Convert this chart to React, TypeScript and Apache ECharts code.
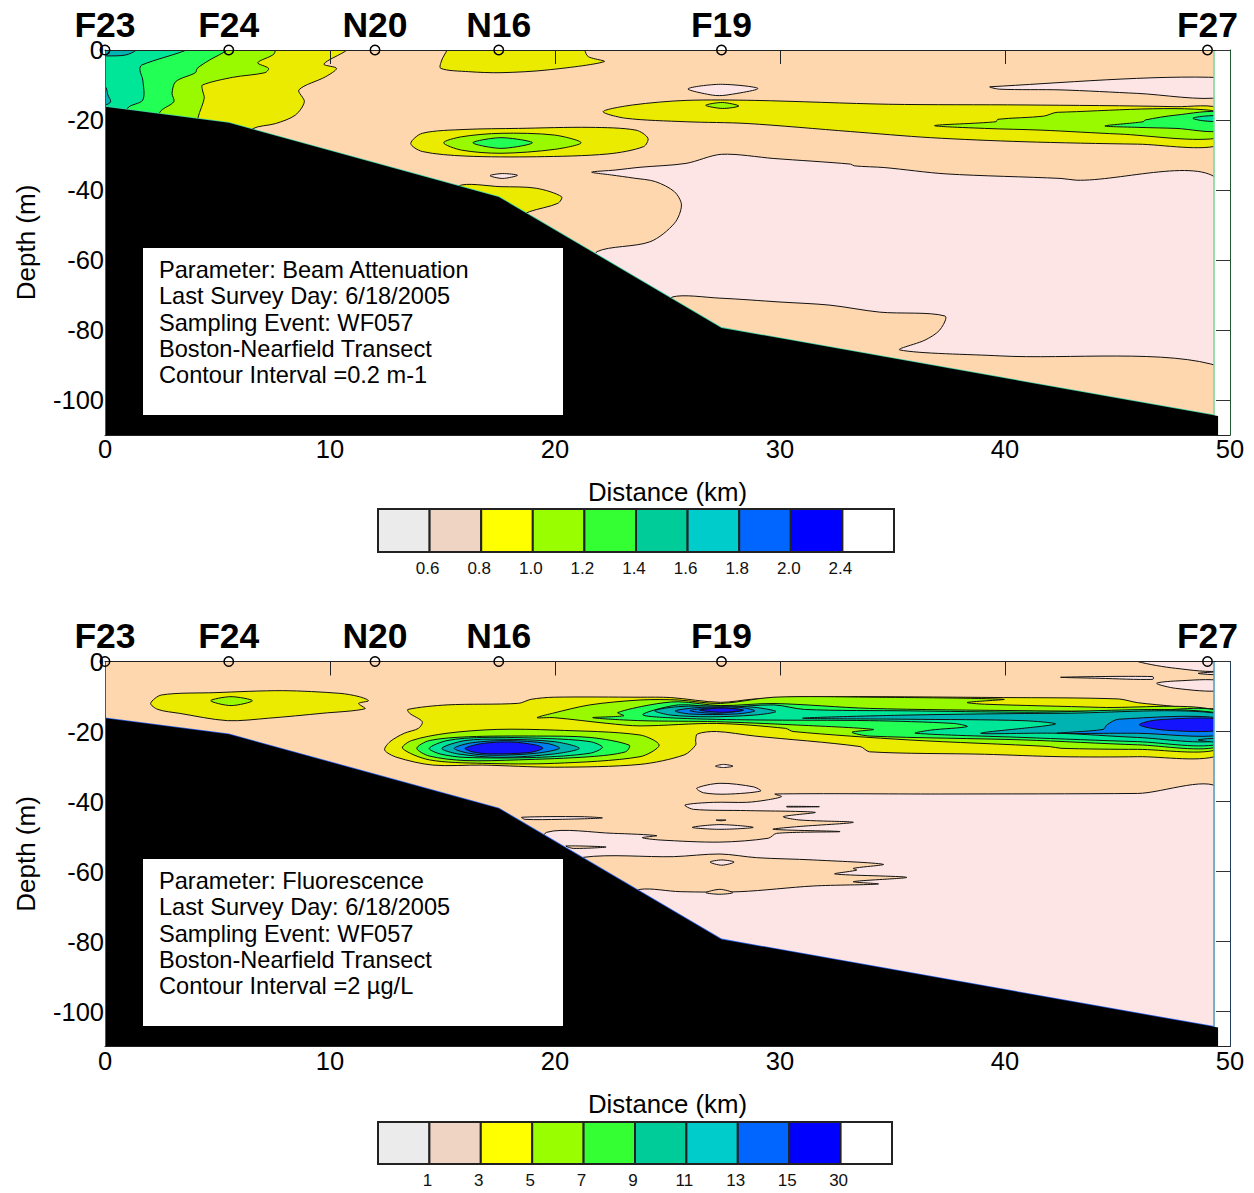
import React, { useEffect, useRef } from "react";
import * as echarts from "echarts";

const FONT = "Liberation Sans";
const stationNames = ["F23", "F24", "N20", "N16", "F19", "F27"];
const stationKm = [0, 5.5, 12, 17.5, 27.4, 49];
const depthTicks = [-100, -80, -60, -40, -20, 0];
const colorbarBeamLabels = ["0.6", "0.8", "1.0", "1.2", "1.4", "1.6", "1.8", "2.0", "2.4"];
const colorbarFluorLabels = ["1", "3", "5", "7", "9", "11", "13", "15", "30"];
const colorbarColors = ["#EBEBEB", "#EFD3C3", "#FFFF00", "#99FF00", "#33FF33", "#00CC99", "#00CCCC", "#0066FF", "#0000FF", "#FFFFFF"];
const beamInfo = ["Parameter: Beam Attenuation", "Last Survey Day: 6/18/2005", "Sampling Event: WF057", "Boston-Nearfield Transect", "Contour Interval =0.2 m-1"];
const fluorInfo = ["Parameter: Fluorescence", "Last Survey Day: 6/18/2005", "Sampling Event: WF057", "Boston-Nearfield Transect", "Contour Interval =2 µg/L"];

const seabed = [[0, -16.2], [5.5, -20.8], [17.5, -42], [27.4, -79.4], [49.47, -104.6]];
const wholeArea = [[-1, 1], [51, 1], [51, -112], [-1, -112]];

// Beam attenuation contours: [distance km, depth m]
const bPink = [[21.63, -34.9], [22.67, -34.3], [23.78, -33.5], [25.82, -32.4], [27.4, -29.8], [29.73, -31], [33.13, -32.6], [33.3, -33.1], [34.66, -33.6], [37.38, -35.4], [42.49, -36.7], [43.17, -37.2], [49.6, -38.1], [49.6, -108], [27.4, -84], [21.87, -62], [21.87, -57.6], [24.22, -54.8], [25.31, -49.5], [25.62, -44.3], [25.31, -40.5], [24.46, -37.6], [23.5, -36.6], [22.5, -35.7]];
const bLowerPeach = [[25.2, -70.6], [27.33, -70.9], [30, -72], [32.22, -72.9], [34.44, -74.9], [37.33, -76], [37.1, -80], [36.44, -82.9], [35.33, -85.7], [39.78, -87.4], [49.6, -90.6], [49.6, -110], [27, -85], [25.2, -75]];
const bIslandF19 = [[25.91, -11.1], [27.35, -9.8], [29.02, -11], [27.6, -12.9], [27.0, -12.9]];
const bRightPink = [[39.34, -10.5], [49.6, -7.9], [49.6, -13.5], [45.9, -12.4], [42.49, -11.4], [39.77, -11.2]];
const bTinyPink = [[17.11, -35.9], [17.67, -35.3], [18.33, -35.8], [17.67, -36.7]];
const bYellowCoast = [[-1, 1], [10.76, 1], [10.76, 0], [9.73, -4], [10.29, -5.24], [9.81, -7.62], [8.62, -11.4], [8.86, -14.76], [8.46, -18.6], [7.59, -21], [6.56, -22.5], [6.2, -26], [-1, -26]];
const bLimeCoast = [[-1, 1], [7.51, 1], [7.51, -1.14], [6.79, -3.62], [7.27, -5.24], [7.11, -6.48], [5.68, -7.8], [4.33, -10], [4.33, -11.4], [4.41, -13.8], [4.14, -19.2], [4, -26], [-1, -26]];
const bGreenCoast = [[-1, 1], [5.44, 1], [5.44, 0], [4.65, -2.86], [4.1, -5.24], [4.02, -6.48], [3.14, -9.05], [2.98, -12.4], [3.06, -14.76], [2.43, -17.9], [2.3, -26], [-1, -26]];
const bTealCoast = [[-1, 1], [3.62, 1], [3.62, 0], [1.63, -4.3], [1.55, -5.7], [1.68, -8.6], [1.68, -14.3], [1, -16.7], [0.8, -26], [-1, -26]];
const bCyanTop = [[-1, 1], [1.4, 1], [1.4, 0], [0.92, -1.43], [0.05, -1.7], [-1, -1.7]];
const bCyanPocket = [[-1, -10.5], [0, -10.5], [0.13, -12.85], [0.25, -14.8], [0, -15.7], [-1, -15.7]];
const bN16Top = [[15.2, 1], [15.2, 0], [14.97, -2.86], [14.92, -5.24], [16.16, -6.19], [17.6, -6.48], [19.65, -5.71], [22.19, -3.33], [21.48, -1.9], [21.32, 0], [21.32, 1]];
const bBlobYellow = [[13.59, -26.7], [14.1, -23.8], [16, -22.7], [18.38, -22.4], [21.56, -22.1], [23.6, -22.9], [24.13, -25.2], [23.94, -27.6], [22.35, -29.7], [19.17, -30.5], [16, -30.3], [14.1, -29]];
const bBlobLime = [[15.05, -26.5], [15.84, -24.8], [17.6, -23.8], [19.97, -24.3], [21.16, -26.5], [19.97, -28.4], [17.6, -29.5], [15.84, -28.6]];
const bBlobGreen = [[16.35, -26.5], [17.6, -25.05], [19, -26.5], [17.6, -28.1]];
const bShelfYellow = [[15.68, -38.9], [17.6, -39.05], [19.17, -39.5], [20.29, -41.9], [20.13, -43.8], [18.86, -46.2], [17.5, -50], [15.68, -45]];
const bBandYellow = [[22.14, -17.6], [23.46, -15.7], [25.82, -14.4], [28.88, -14.4], [34.83, -15.5], [40.8, -15.7], [47.6, -16.2], [49.6, -17], [49.6, -27], [45.9, -26.9], [40.8, -26.2], [36.7, -25.05], [33.13, -23.3], [28.54, -21], [25.82, -20.5], [23.14, -19.5]];
const bF19Lime = [[26.7, -15.8], [27.44, -15], [28.17, -16], [27.44, -16.7]];
const bBandLime = [[36.87, -21.6], [39.6, -20.5], [39.68, -19.8], [41.72, -18.9], [42.32, -17.8], [49.6, -17.6], [49.6, -25], [45.04, -24], [41.64, -22.9], [39.09, -22.4]];
const bBandGreen = [[44.44, -21.7], [46.14, -20.5], [46.23, -20], [47.6, -18.6], [49.6, -17.9], [49.6, -23], [47.6, -22.4], [45.9, -22.1]];
const bBandTeal = [[48.35, -19.5], [48.86, -18.9], [49.6, -18.9], [49.6, -20.3], [48.78, -20.2]];

// Fluorescence contours: [distance km, depth m]
const fPink = [[49.6, -37.2], [45.89, -37.7], [37.1, -37.86], [29.78, -37.86], [30.07, -38.6], [29.41, -39.57], [28.52, -40.24], [27.04, -40.24], [25.78, -41], [26.15, -42.24], [28.52, -42.6], [31.56, -43.1], [30.15, -44.33], [30.89, -45.29], [33.26, -45.95], [30.74, -47.2], [29.7, -47.95], [32.67, -48.6], [29.85, -49.1], [29.48, -50.5], [27.33, -51.6], [24.67, -51], [23.88, -50.33], [24.52, -49.76], [22.6, -49.1], [19.63, -48.8], [19.5, -55], [27.4, -85], [49.6, -108]];
const fLens = [[21.26, -55.95], [25.26, -55.76], [27.33, -55], [28.96, -56.05], [31.48, -56.7], [34.59, -57.95], [33.26, -59.1], [33.41, -59.6], [32.44, -60.7], [35.63, -61.67], [33.26, -62.9], [34.37, -63.57], [31.48, -64.14], [28.22, -65.76], [25.56, -65.76], [23.78, -65.1], [23, -68], [20.5, -60]];
const fLensHole = [[26.89, -57.3], [27.41, -56.7], [27.96, -57.3], [27.41, -58.2]];
const fLensFoot = [[26.71, -66.05], [27.33, -65.1], [27.9, -66.05], [27.33, -66.5]];
const fSliverA = [[18.52, -44.5], [21.11, -44.33], [22.1, -44.7], [20.22, -45.1], [18.67, -45.1]];
const fSliverB = [[20.49, -52.7], [22.27, -53], [20.81, -53.4]];
const fSliverC = [[30.3, -41.38], [31.75, -41.48], [30.3, -41.57]];
const fSliverD = [[27.16, -45.3], [27.6, -45.3], [27.38, -45.5]];
const fOvalMid = [[26.1, -47.4], [27.33, -46.6], [28.81, -47.4], [27.33, -47.95]];
const fOvalUpper = [[26.3, -36.2], [27.33, -34.8], [28.81, -35.8], [29.14, -37], [27.63, -37.9], [26.6, -37.5]];
const fTinyUpper = [[27.13, -29.9], [27.49, -29.4], [27.91, -29.9], [27.49, -30.3]];
const fCornerPink = [[45.89, 1], [45.89, 0], [47.59, -1.95], [49.6, -2.6], [49.6, 1]];
const fSmallPink = [[48.58, -3.4], [49.6, -3], [49.6, -3.76]];
const fThinPink = [[42.49, -4.5], [46.57, -4.3], [46.57, -5.1], [44.19, -4.8]];
const fOvalRight = [[46.74, -6.24], [47.59, -5.57], [49.6, -5.5], [49.6, -8.3], [47.59, -7.67]];
const fYellowF24 = [[2.03, -11.95], [2.51, -9.57], [4.89, -8.9], [7.9, -8.33], [10.44, -9.1], [11.3, -10.05], [11.71, -11.2], [11.27, -12], [11.56, -13.5], [9.65, -14.8], [7.27, -16.2], [5.44, -16.9], [3.3, -14.8], [2.35, -13.7]];
const fLimeF24 = [[4.7, -11.2], [5.6, -10.05], [6.55, -11.2], [5.6, -12.6]];
const fYellowMain = [[13.46, -13.7], [15.2, -12.4], [18.38, -11.95], [18.94, -10.8], [19.97, -10.2], [23.78, -10.2], [25.14, -10.3], [27.35, -11.67], [28.88, -10.7], [31.43, -10.05], [39.94, -10.3], [45.04, -10.7], [45.89, -11.76], [47.59, -12.9], [48.44, -13.86], [49.6, -14.14], [49.6, -26.5], [45.89, -27.2], [42.49, -27.2], [39.09, -26.5], [33.98, -25.8], [33.56, -24.3], [28.88, -21.3], [27.18, -20], [26.33, -20.7], [26.25, -22.4], [26.25, -23.9], [25.74, -26.7], [23.78, -29.4], [19.97, -30.2], [16.79, -29.6], [14.57, -29.6], [12.98, -27.4], [12.43, -25.3], [12.67, -22.9], [13.3, -20.5], [13.93, -19.1], [14.1, -17.2], [13.54, -14.8]];
const fLimeLower = [[13.22, -24.8], [13.62, -22.6], [15.2, -20.5], [17.43, -19.4], [19.97, -19.6], [23.78, -21], [24.63, -23.9], [23.78, -27.2], [19.97, -29.1], [16.79, -29.1], [14.41, -28.1]];
const fGreenLower = [[13.86, -24.8], [14.41, -22.6], [16.16, -21.5], [19.17, -21.3], [21.56, -21.7], [23.3, -23.9], [23.14, -25.8], [21.56, -27.2], [18.38, -28.1], [16, -28.3], [14.41, -27]];
const fTealLower = [[14.41, -24.8], [15.2, -22.6], [16.79, -21.7], [19.65, -22], [21.56, -22.9], [22.11, -24.5], [21.56, -26.2], [19.17, -27.4], [16, -27.4], [14.89, -26.4]];
const fCyanLower = [[14.97, -24.8], [16, -22.6], [17.6, -22.2], [19.97, -22.9], [21.08, -24.8], [19.97, -26.4], [17.6, -27.4], [15.68, -26.4]];
const fBlueLower = [[15.52, -24.8], [16.32, -23.2], [17.9, -22.6], [19.65, -23.4], [20.2, -24.8], [19.17, -26.2], [17.27, -26.8], [16.16, -26.2]];
const fDeepLower = [[16, -24.8], [16.79, -23.4], [18.06, -23], [19.17, -23.9], [19.46, -24.8], [18.86, -26], [17.11, -26.4], [16.32, -25.8]];
const fLimeBand = [[19.2, -16.05], [19.89, -14.8], [21.55, -12.4], [23.78, -11], [25.48, -11], [27.35, -12], [29.73, -10.2], [34, -10.2], [39.94, -10.8], [38.32, -11.7], [39.09, -12.2], [44.19, -13.1], [49.6, -14.3], [49.6, -24.8], [45.89, -25.1], [42.49, -24.8], [41.98, -24.3], [35.7, -22.4], [30.58, -20], [30.24, -19.1], [27.18, -17.7], [23.78, -18.4], [22.35, -17.7], [19.97, -16.05]];
const fGreenBand = [[21.68, -16.05], [23.06, -15.5], [22.79, -14.6], [24.22, -12.4], [25.48, -11.5], [27.35, -12.6], [29.73, -12], [33.98, -13.4], [40.8, -14.05], [45.89, -14.3], [49.6, -14.3], [49.6, -24.1], [45.89, -23.8], [40.8, -22.4], [33.98, -21.3], [33.2, -20.2], [34.15, -19.4], [30.58, -18.1], [27.18, -17.2], [23.78, -16.9]];
const fTealBand = [[23.9, -15.2], [25.48, -12.4], [27.35, -13.1], [29.73, -12.4], [31.09, -13.7], [35.7, -14.1], [40.8, -14.5], [49.6, -14.8], [49.6, -23.4], [45.89, -22.9], [40.8, -21.7], [36.02, -20.5], [36.7, -19.6], [38.32, -18.6], [37.72, -17.7], [33.98, -16.9], [28.88, -16.7], [25.48, -16.2]];
const fCyanF19 = [[24.43, -14.05], [25.48, -12.9], [27.35, -12.7], [28.88, -13.1], [29.82, -14.3], [28.88, -15.3], [26.84, -15.8], [25.14, -15.3]];
const fBlueF19 = [[25.34, -14.1], [26.5, -13.1], [28.2, -13.1], [28.88, -14.1], [28.03, -15], [26, -15]];
const fAzureF19 = [[25.99, -14.05], [27.18, -13.2], [28.37, -13.9], [27.18, -14.8]];
const fDeepF19 = [[26.42, -13.9], [27.44, -13.3], [28.37, -13.9], [27.44, -14.5]];
const fCyanBand = [[31, -16.2], [35.7, -15.3], [42.49, -14.8], [49.6, -15], [49.6, -22.4], [45.89, -21.7], [42.32, -20.5], [38.92, -20.5], [42.23, -17.9], [40.8, -16.9], [35.7, -16.5]];
const fAzureBand = [[42.32, -20.5], [44.36, -19.4], [44.53, -18.1], [45.04, -16.5], [49.6, -16.2], [49.6, -21], [45.89, -20.5]];
const fDeepBand = [[45.97, -18.1], [46.74, -16.7], [49.6, -16.5], [49.6, -19.6], [47.08, -19.6]];
const fCyanFoot = [[48.58, -22.4], [49.6, -22], [49.6, -23.1]];

const PEACH = "#FFD7AF", PINK = "#FDE5E5", YELLOW = "#EBEB00", LIME = "#99FA00", GREEN = "#22FF55", TEAL = "#00E699", CYAN = "#00B3B3", AZURE = "#0080F0", DEEP = "#1414FF";

const beamLayers: [number[][], string][] = [
  [bPink, PINK], [bLowerPeach, PEACH], [bIslandF19, PINK], [bRightPink, PINK], [bTinyPink, PINK],
  [bYellowCoast, YELLOW], [bLimeCoast, LIME], [bGreenCoast, GREEN], [bTealCoast, TEAL], [bCyanTop, CYAN], [bCyanPocket, CYAN],
  [bN16Top, YELLOW], [bBlobYellow, YELLOW], [bBlobLime, LIME], [bBlobGreen, GREEN], [bShelfYellow, YELLOW],
  [bBandYellow, YELLOW], [bF19Lime, LIME], [bBandLime, LIME], [bBandGreen, GREEN], [bBandTeal, TEAL],
];
const fluorLayers: [number[][], string][] = [
  [fPink, PINK], [fLens, PEACH], [fLensHole, PINK], [fLensFoot, PEACH], [fSliverA, PINK], [fSliverB, PEACH], [fSliverC, PEACH], [fSliverD, PINK], [fOvalMid, PINK], [fOvalUpper, PINK], [fTinyUpper, PINK],
  [fCornerPink, PINK], [fSmallPink, PINK], [fThinPink, PINK], [fOvalRight, PINK],
  [fYellowF24, YELLOW], [fLimeF24, LIME], [fYellowMain, YELLOW], [fLimeLower, LIME], [fGreenLower, GREEN], [fTealLower, TEAL], [fCyanLower, CYAN], [fBlueLower, AZURE], [fDeepLower, DEEP],
  [fLimeBand, LIME], [fGreenBand, GREEN], [fTealBand, TEAL], [fCyanF19, CYAN], [fBlueF19, AZURE], [fAzureF19, AZURE], [fDeepF19, DEEP], [fCyanBand, CYAN], [fAzureBand, AZURE], [fDeepBand, DEEP], [fCyanFoot, CYAN],
];

const STRIP_X = 49.29;

function polygonSeries(list: [number[][], string][], axis: number, stroke: string | null, smooth: number, z: number) {
  return {
    type: "custom",
    coordinateSystem: "cartesian2d",
    xAxisIndex: axis,
    yAxisIndex: axis,
    clip: true,
    silent: true,
    z,
    data: list.map((_, i) => [i, 0]),
    renderItem: (params: any, api: any) => {
      const [pts, fill] = list[params.dataIndex];
      return {
        type: "polygon",
        shape: { points: pts.map((p) => api.coord(p)), smooth },
        style: { fill, stroke, lineWidth: stroke ? 1 : 0 },
      };
    },
  };
}

function edgeSeries(axis: number, pts: number[][], color: string) {
  return {
    type: "custom",
    coordinateSystem: "cartesian2d",
    xAxisIndex: axis,
    yAxisIndex: axis,
    clip: true,
    silent: true,
    z: 5,
    data: [[0, 0]],
    renderItem: (_: any, api: any) => ({
      type: "polyline",
      shape: { points: pts.map((p) => api.coord(p)) },
      style: { stroke: color, lineWidth: 1.6, fill: "none" },
    }),
  };
}

function panelSeries(layers: [number[][], string][], axis: number, bedColor: string, sideColor: string) {
  return [
    polygonSeries([[wholeArea, PEACH]], axis, null, 0, 2),
    polygonSeries(layers, axis, "#111", 0.3, 3),
    polygonSeries([[[[STRIP_X, 1], [51, 1], [51, -112], [STRIP_X, -112]], "#FFFFFF"]], axis, null, 0, 4),
    edgeSeries(axis, [...seabed.slice(0, 4), [STRIP_X, -104.4]], bedColor),
    edgeSeries(axis, [[STRIP_X, -104.4], [STRIP_X, 0]], sideColor),
    polygonSeries([[[...seabed, [49.47, -112], [-1, -112], [-1, -16.2]], "#000000"]], axis, null, 0, 6),
    {
      type: "scatter",
      xAxisIndex: axis,
      yAxisIndex: axis,
      clip: false,
      silent: true,
      z: 12,
      symbolSize: 9.5,
      itemStyle: { color: "rgba(0,0,0,0)", borderColor: "#000", borderWidth: 1.5, opacity: 1 },
      label: {
        show: true,
        position: "top",
        distance: 2,
        fontFamily: FONT,
        fontWeight: "bold",
        fontSize: 35.5,
        color: "#000",
        opacity: 1,
        formatter: (p: any) => stationNames[p.dataIndex],
      },
      data: stationKm.map((km) => [km, 0]),
    },
  ];
}

function panelAxes(top: number, rightColor: string) {
  const line = { show: true, onZero: false, lineStyle: { color: "#222", width: 1 } };
  const base = { min: 0, max: 50, interval: 10, z: 10, splitLine: { show: false } };
  const x = [
    {
      ...base,
      type: "value",
      position: "bottom",
      axisLine: line,
      axisTick: { show: false },
      axisLabel: { fontFamily: FONT, fontSize: 25.5, color: "#000", margin: 1 },
      name: "Distance (km)",
      nameLocation: "middle",
      nameGap: 44,
      nameTextStyle: { fontFamily: FONT, fontSize: 25.8, color: "#000" },
    },
    {
      ...base,
      type: "value",
      position: "top",
      axisLine: line,
      axisTick: { show: true, inside: true, length: 14, lineStyle: { color: "#222", width: 1 }, customValues: [10, 20, 30, 40] },
      axisLabel: { show: false },
    },
  ];
  const y = [
    {
      type: "value",
      min: -110,
      max: 0,
      position: "left",
      z: 10,
      splitLine: { show: false },
      axisLine: { ...line, lineStyle: { color: "#555", width: 1 } },
      axisTick: { show: false },
      axisLabel: { fontFamily: FONT, fontSize: 25.5, color: "#000", margin: 1, padding: [2, 0, 0, 0], customValues: depthTicks },
      name: "Depth (m)",
      nameLocation: "middle",
      nameGap: 66,
      nameTextStyle: { fontFamily: FONT, fontSize: 26, color: "#000" },
    },
    {
      type: "value",
      min: -110,
      max: 0,
      position: "right",
      z: 10,
      splitLine: { show: false },
      axisLine: { ...line, lineStyle: { color: rightColor, width: 1 } },
      axisTick: { show: true, inside: true, length: 14, lineStyle: { color: "#333", width: 1 }, customValues: depthTicks },
      axisLabel: { show: false },
    },
  ];
  return { x, y, grid: { left: 105, right: 24, top, height: 385 } };
}

function colorbarParts(labels: string[], left: number, width: number, top: number, height: number, axis: number) {
  return {
    grid: { left, width, top, height },
    x: {
      type: "value",
      min: 0,
      max: colorbarColors.length,
      position: "bottom",
      axisLine: { show: false },
      axisTick: { show: false },
      splitLine: { show: false },
      axisLabel: {
        fontFamily: FONT,
        fontSize: 17,
        color: "#111",
        margin: 8,
        padding: [0, 4, 0, 0],
        customValues: labels.map((_, i) => i + 1),
        formatter: (v: number) => labels[v - 1],
      },
    },
    y: { type: "value", min: 0, max: 1, show: false },
    series: {
      type: "custom",
      coordinateSystem: "cartesian2d",
      xAxisIndex: axis,
      yAxisIndex: axis,
      silent: true,
      data: colorbarColors.map((_, i) => [i, 0]),
      renderItem: (params: any, api: any) => {
        const i = params.dataIndex;
        const a = api.coord([i, 1]);
        const b = api.coord([i + 1, 0]);
        return {
          type: "rect",
          shape: { x: a[0], y: a[1], width: b[0] - a[0], height: b[1] - a[1] },
          style: { fill: colorbarColors[i], stroke: "#222", lineWidth: 2 },
        };
      },
    },
  };
}

function infoBox(lines: string[], top: number) {
  return [
    { type: "rect", z: 100, shape: { x: 143, y: top, width: 420, height: 167 }, style: { fill: "#FFFFFF" } },
    ...lines.map((t, i) => ({
      type: "text",
      z: 101,
      x: 159,
      y: top + 22 + i * 26.25,
      style: { text: t, fontFamily: FONT, fontSize: 23.6, fill: "#000", verticalAlign: "middle", align: "left" },
    })),
  ];
}

export default function App() {
  const ref = useRef<HTMLDivElement>(null);
  useEffect(() => {
    const chart = echarts.init(ref.current!, null, { renderer: "svg" });
    const p1 = panelAxes(50, "#1F5A33");
    const p2 = panelAxes(661.5, "#1F3F5A");
    const c1 = colorbarParts(colorbarBeamLabels, 378, 516, 509, 43, 4);
    const c2 = colorbarParts(colorbarFluorLabels, 378, 514, 1122, 42, 5);
    const xAxis = [p1.x[0], p2.x[0], p1.x[1], p2.x[1], c1.x, c2.x];
    const yAxis = [p1.y[0], p2.y[0], p1.y[1], p2.y[1], c1.y, c2.y];
    xAxis.forEach((a: any, i) => (a.gridIndex = i < 4 ? i % 2 : i - 2));
    yAxis.forEach((a: any, i) => (a.gridIndex = i < 4 ? i % 2 : i - 2));
    chart.setOption({
      animation: false,
      backgroundColor: "#FFFFFF",
      grid: [p1.grid, p2.grid, c1.grid, c2.grid],
      xAxis,
      yAxis,
      series: [
        ...panelSeries(beamLayers, 0, "#3CD0A8", "#7FD89F"),
        ...panelSeries(fluorLayers, 1, "#2A62E8", "#5A9FC0"),
        c1.series,
        c2.series,
      ],
      graphic: { elements: [...infoBox(beamInfo, 248), ...infoBox(fluorInfo, 859)] },
    });
    return () => chart.dispose();
  }, []);
  return <div ref={ref} style={{ position: "absolute", left: 0, top: 0, width: 1254, height: 1193 }} />;
}
